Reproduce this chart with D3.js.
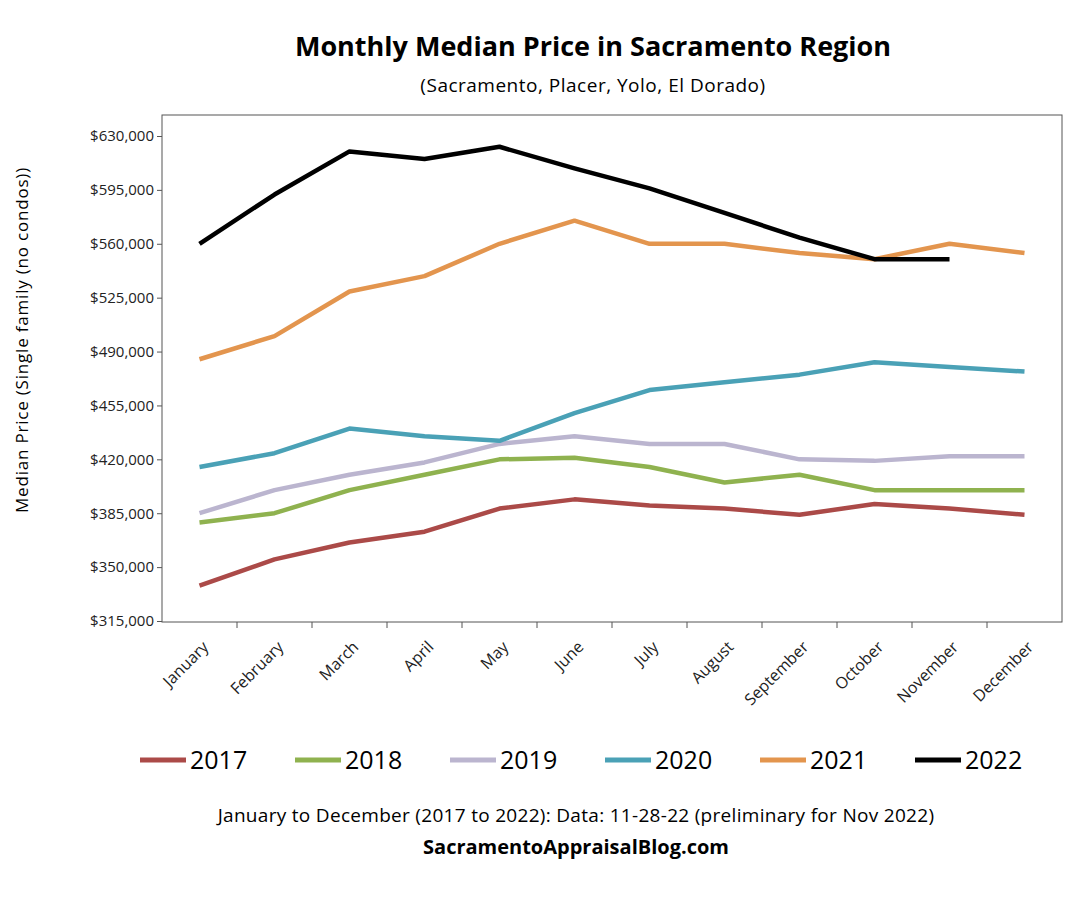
<!DOCTYPE html>
<html><head><meta charset="utf-8">
<script src="https://cdn.jsdelivr.net/npm/d3@7"></script>
<style>body{margin:0;background:#fff;font-family:"Open Sans","Noto Sans",sans-serif;} svg text{font-family:"Open Sans","Noto Sans",sans-serif;}</style>
</head><body><div id="chart"></div>
<script>
var months = ['January','February','March','April','May','June','July','August','September','October','November','December'];
var years = ['2017','2018','2019','2020','2021','2022'];
var colors = ['#ab4a48','#8fb24f','#bbb5cf','#4aa1b6','#e3954e','#000000'];
var v2017 = [338000,355000,366000,373000,388000,394000,390000,388000,384000,391000,388000,384000];
var v2018 = [379000,385000,400000,410000,420000,421000,415000,405000,410000,400000,400000,400000];
var v2019 = [385000,400000,410000,418000,430000,435000,430000,430000,420000,419000,422000,422000];
var v2020 = [415000,424000,440000,435000,432000,450000,465000,470000,475000,483000,480000,477000];
var v2021 = [485000,500000,529000,539000,560000,575000,560000,560000,554000,550000,560000,554000];
var v2022 = [560000,592000,620000,615000,623000,609000,596000,580000,564000,550000,550000];
var series = [v2017,v2018,v2019,v2020,v2021,v2022];
var yTicks = d3.range(315000, 630001, 35000);

var svg = d3.select('#chart').append('svg').attr('width',1080).attr('height',900);
var L=162, R=1062, T=115, B=622;

var x = d3.scaleBand().domain(months).range([L,R]);
var y = d3.scaleLinear().domain([315000,630000]).range([621,136]);

svg.append('rect').attr('x',L).attr('y',T).attr('width',R-L).attr('height',B-T)
  .attr('fill','none').attr('stroke','#555').attr('stroke-width',1);

var fmt = function(d){ return '$' + d3.format(',')(d); };
var ya = svg.append('g').attr('transform','translate('+L+',0)')
  .call(d3.axisLeft(y).tickValues(yTicks).tickFormat(fmt).tickSize(5).tickSizeOuter(0));
ya.select('.domain').remove();
ya.selectAll('text').style('font-size','15px').attr('fill','#222');
ya.selectAll('line').attr('stroke','#555');

var xa = svg.append('g').attr('transform','translate(0,'+B+')')
  .call(d3.axisBottom(x).tickSize(0).tickSizeOuter(0));
xa.select('.domain').remove();
xa.selectAll('text').style('font-size','16px').attr('fill','#222')
  .attr('text-anchor','end').attr('dy',0).attr('y',0)
  .attr('transform','translate(10,26) rotate(-45)');
months.slice(1).forEach(function(m){
  svg.append('line').attr('x1',x(m)).attr('x2',x(m)).attr('y1',B).attr('y2',B+6).attr('stroke','#555');
});

var line = d3.line().x(function(d,i){ return x(months[i]) + x.bandwidth()/2; }).y(function(d){ return y(d); });
series.forEach(function(s,i){
  svg.append('path').datum(s).attr('d',line).attr('fill','none')
    .attr('stroke',colors[i]).attr('stroke-width',4.5).attr('stroke-linejoin','round');
});

svg.append('text').attr('x',593).attr('y',56).attr('text-anchor','middle')
  .style('font-size','27px').style('font-weight','bold').text('Monthly Median Price in Sacramento Region');
svg.append('text').attr('x',593).attr('y',92).attr('text-anchor','middle')
  .style('font-size','19px').style('letter-spacing','0.5px').text('(Sacramento,  Placer, Yolo, El Dorado)');
svg.append('text').attr('transform','translate(28,340) rotate(-90)').attr('text-anchor','middle')
  .style('font-size','17px').style('letter-spacing','0.8px').text('Median Price (Single family (no condos))');

var lg = svg.append('g').selectAll('g').data(years).join('g')
  .attr('transform',function(d,i){ return 'translate('+(140+i*155)+',760)'; });
lg.append('line').attr('x1',0).attr('x2',46).attr('stroke',function(d,i){return colors[i];}).attr('stroke-width',5);
lg.append('text').attr('x',50).attr('y',9).style('font-size','25px').text(function(d){return d;});

svg.append('text').attr('x',576).attr('y',822).attr('text-anchor','middle')
  .style('font-size','19px').style('letter-spacing','0.3px').text('January to December (2017 to 2022): Data: 11-28-22  (preliminary for Nov 2022)');
svg.append('text').attr('x',576).attr('y',854).attr('text-anchor','middle')
  .style('font-size','20px').style('font-weight','bold').text('SacramentoAppraisalBlog.com');
</script></body></html>
